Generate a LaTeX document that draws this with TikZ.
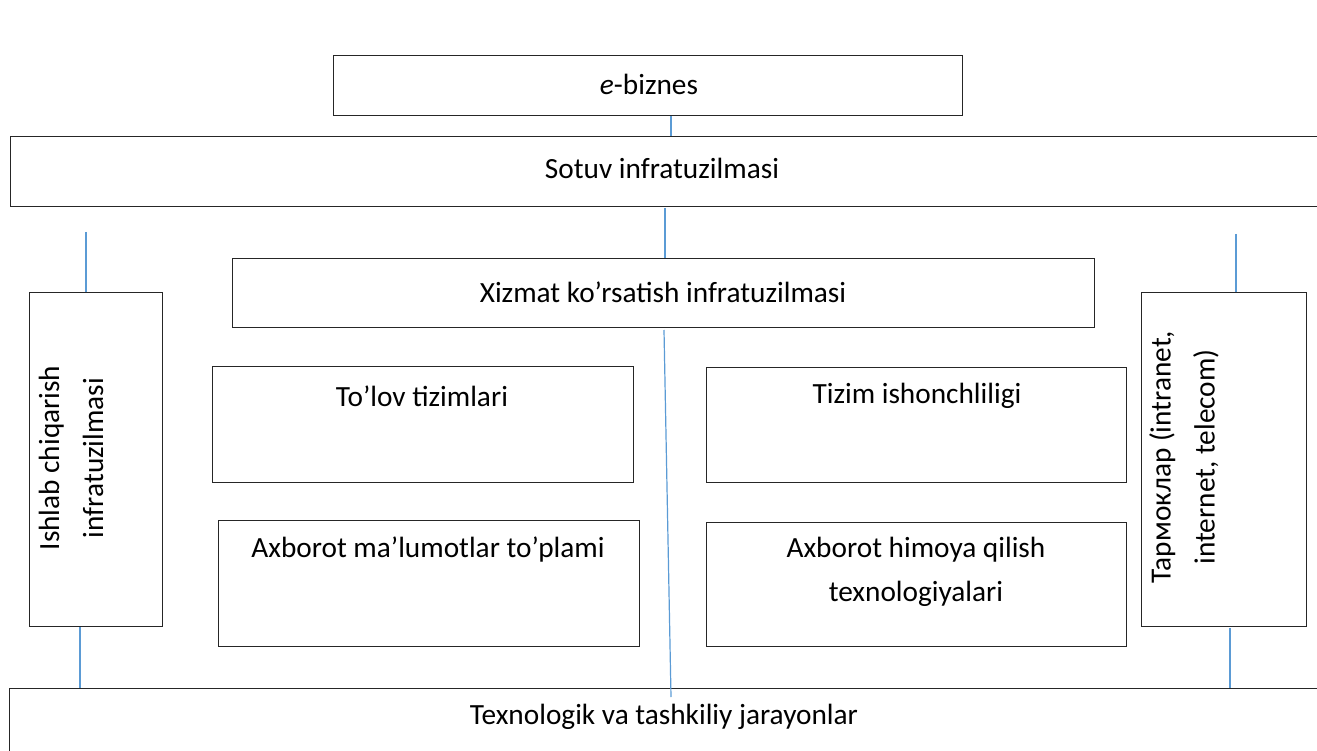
\documentclass[tikz,border=0pt]{standalone}
\usepackage{fontspec}
\setmainfont{Carlito}
\begin{document}
\begin{tikzpicture}[x=1pt,y=-1pt,
  box/.style={draw=black!85, line width=1.3pt, rectangle, inner sep=0pt, anchor=north west},
  txt/.style={inner sep=0pt, align=center, font=\fontsize{29.3}{44}\selectfont},
  link/.style={draw={rgb,255:red,91;green,155;blue,213}, line width=1.2pt}]
\useasboundingbox (0,0) rectangle (1317,751);
% boxes
\node[box, minimum width=629, minimum height=60] (eb) at (333,55) {};
\node[box, minimum width=1330, minimum height=70] (sotuv) at (10,136) {};
\node[box, minimum width=862, minimum height=69] (xizmat) at (232,258) {};
\node[box, minimum width=133, minimum height=334] (ishlab) at (29,292) {};
\node[box, minimum width=165, minimum height=334] (tarm) at (1141,292) {};
\node[box, minimum width=421, minimum height=116] (tolov) at (212,366) {};
\node[box, minimum width=420, minimum height=115] (tizim) at (706,367) {};
\node[box, minimum width=421, minimum height=126] (axb1) at (218,520) {};
\node[box, minimum width=420, minimum height=124] (axb2) at (706,522) {};
\node[box, minimum width=1340, minimum height=100] (texno) at (9,688) {};
% texts
\node[txt] (ebt) at (649,84) {\textit{e}-biznes};
\node[txt] (sotuvt) at (662,168) {Sotuv infratuzilmasi};
\node[txt] (xizmatt) at (663,292) {Xizmat ko’rsatish infratuzilmasi};
\node[txt] (tolovt) at (422,396) {To’lov tizimlari};
\node[txt] (tizimt) at (917,396) {Tizim ishonchliligi};
\node[txt] (axb1t) at (428,550) {Axborot ma’lumotlar to’plami};
\node[txt] (axb2t) at (916,572) {Axborot himoya qilish\\texnologiyalari};
\node[txt, rotate=90] (ishlabt) at (71,458) {Ishlab chiqarish\\infratuzilmasi};
\node[txt, rotate=90] (tarmt) at (1184,457) {Тармоклар (intranet,\\internet, telecom)};
\node[txt] (texnot) at (664,717) {Texnologik va tashkiliy jarayonlar};
% free ends
\coordinate (c1) at (671,0);
\coordinate (c2) at (665,208);
\coordinate (lt) at (86,232);
\coordinate (rt) at (1236,234);
\coordinate (c3) at (80,0);
\coordinate (c4) at (1230,628);
\coordinate (s1) at (664,330);
\coordinate (s2) at (671,697);
% connectors
\draw[link] (eb.south -| c1) -- (sotuv.north -| c1);
\draw[link] (c2) -- (xizmat.north -| c2);
\draw[link] (lt) -- (ishlab.north -| lt);
\draw[link] (rt) -- (tarm.north -| rt);
\draw[link] (ishlab.south -| c3) -- (texno.north -| c3);
\draw[link] (c4) -- (texno.north -| c4);
\draw[link] (s1) -- (s2);
\end{tikzpicture}
\end{document}
